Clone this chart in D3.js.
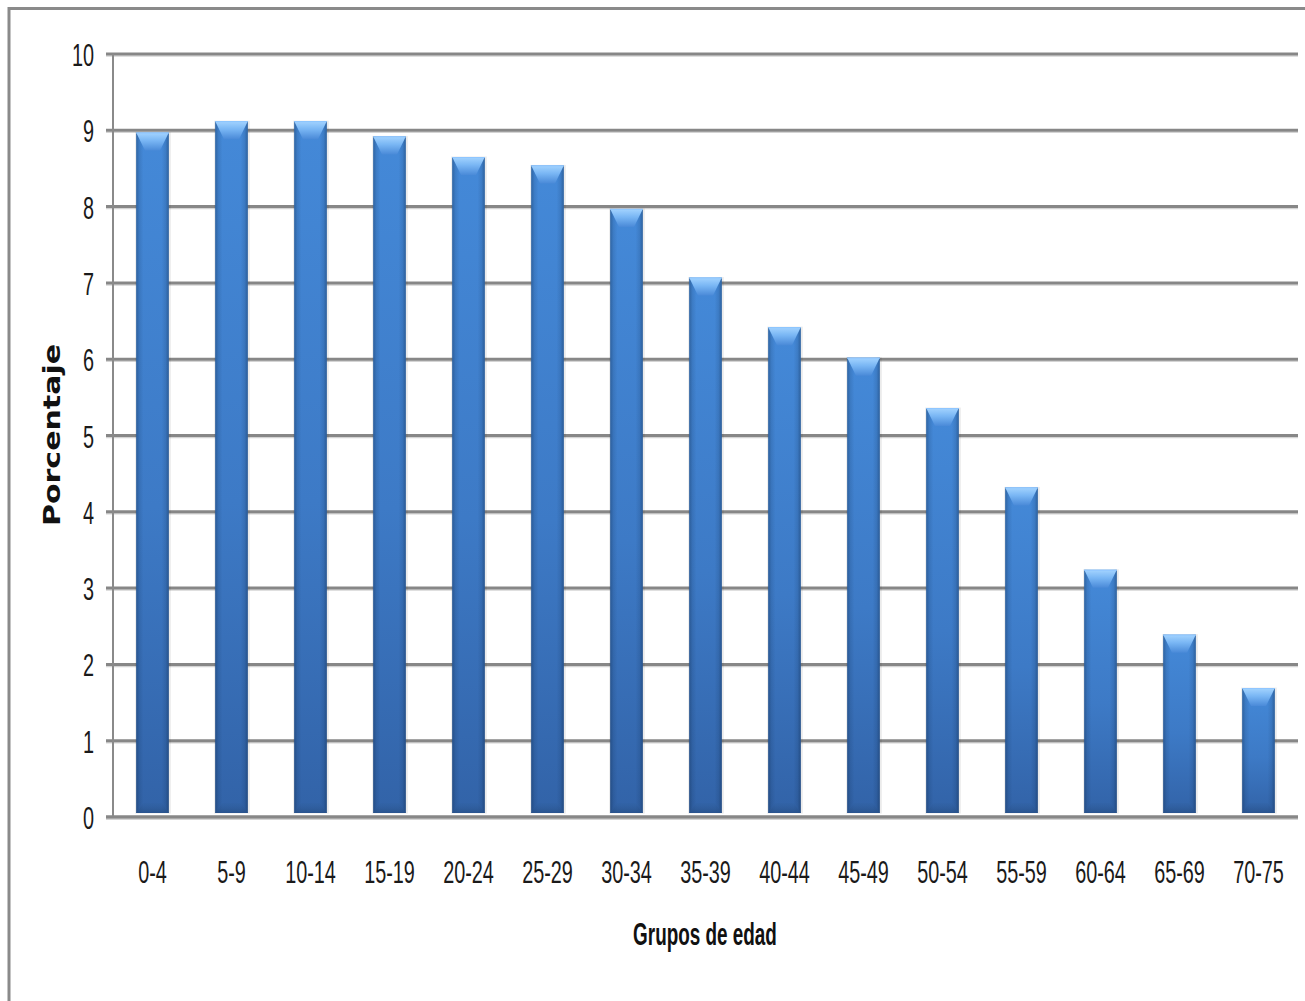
<!DOCTYPE html>
<html>
<head>
<meta charset="utf-8">
<script src="https://cdn.jsdelivr.net/npm/d3@7"></script>
<style>
  html, body { margin: 0; padding: 0; background: #fff; }
  svg { display: block; }
</style>
</head>
<body>
<script>
// ---- Data ----
const categories = ["0-4","5-9","10-14","15-19","20-24","25-29","30-34","35-39","40-44","45-49","50-54","55-59","60-64","65-69","70-75"];
const values = [8.97, 9.12, 9.12, 8.92, 8.65, 8.54, 7.97, 7.07, 6.42, 6.02, 5.36, 4.32, 3.24, 2.39, 1.69];
const yTicks = [0,1,2,3,4,5,6,7,8,9,10];
const xTitle = "Grupos de edad";
const yTitle = "Porcentaje";

// ---- Layout ----
const W = 1305, H = 1001;
const plot = { left: 113, right: 1298, top: 54, bottom: 817 };
const K = 0.62; // horizontal condensing of label text

const svg = d3.select("body").append("svg").attr("width", W).attr("height", H);
const defs = svg.append("defs");

// gradients
const gBody = defs.append("linearGradient").attr("id","gBody").attr("x1",0).attr("y1",0).attr("x2",0).attr("y2",1);
gBody.append("stop").attr("offset","0%").attr("stop-color","#4489d8");
gBody.append("stop").attr("offset","55%").attr("stop-color","#3d7ac6");
gBody.append("stop").attr("offset","100%").attr("stop-color","#3263a8");

const gSide = defs.append("linearGradient").attr("id","gSide").attr("x1",0).attr("y1",0).attr("x2",1).attr("y2",0);
[[0,0.35],[0.1,0.12],[0.22,0.0],[0.78,0.0],[0.9,0.12],[1,0.38]].forEach(([o,a])=>{
  gSide.append("stop").attr("offset",o).attr("stop-color","#0a2240").attr("stop-opacity",a);
});

const gTop = defs.append("linearGradient").attr("id","gTop").attr("x1",0).attr("y1",0).attr("x2",0).attr("y2",1);
gTop.append("stop").attr("offset","0%").attr("stop-color","#a4d4ff");
gTop.append("stop").attr("offset","45%").attr("stop-color","#79b6f4");
gTop.append("stop").attr("offset","100%").attr("stop-color","#4a8ad8");

const gBot = defs.append("linearGradient").attr("id","gBot").attr("x1",0).attr("y1",0).attr("x2",0).attr("y2",1);
gBot.append("stop").attr("offset","0%").attr("stop-color","#2f5e9c").attr("stop-opacity",0.2);
gBot.append("stop").attr("offset","100%").attr("stop-color","#28518a").attr("stop-opacity",0.85);

// ---- Frame ----
svg.append("line").attr("x1",8).attr("x2",W).attr("y1",8.5).attr("y2",8.5)
  .attr("stroke","#8a8a8a").attr("stroke-width",3);
svg.append("line").attr("x1",9).attr("x2",9).attr("y1",7).attr("y2",H)
  .attr("stroke","#8a8a8a").attr("stroke-width",3);

// ---- Scales ----
const x = d3.scaleBand().domain(categories).range([plot.left, plot.right])
  .paddingInner(0.587).paddingOuter(0.2935);
const y = d3.scaleLinear().domain([0, 10]).range([plot.bottom, plot.top]);

// ---- Gridlines ----
const grid = svg.append("g");
grid.selectAll("line.shadow").data(yTicks).join("line")
  .attr("class","shadow")
  .attr("x1", plot.left - 7).attr("x2", plot.right)
  .attr("y1", d => y(d) + 2).attr("y2", d => y(d) + 2)
  .attr("stroke","#d4d4d4").attr("stroke-width",1.5);
grid.selectAll("line.g").data(yTicks).join("line")
  .attr("class","g")
  .attr("x1", plot.left - 7).attr("x2", plot.right)
  .attr("y1", d => y(d)).attr("y2", d => y(d))
  .attr("stroke","#878787").attr("stroke-width",3);

// vertical axis line
svg.append("line").attr("x1",plot.left).attr("x2",plot.left)
  .attr("y1",plot.top).attr("y2",plot.bottom)
  .attr("stroke","#8a8a8a").attr("stroke-width",2);

// ---- Bars ----
const bw = x.bandwidth();
const barG = svg.append("g");
const bars = barG.selectAll("g.bar").data(categories.map((c,i)=>({c, v: values[i]}))).join("g").attr("class","bar");

bars.append("rect")
  .attr("x", d => x(d.c) - 1).attr("y", d => y(d.v) - 0.5)
  .attr("width", bw + 3).attr("height", d => y(0) - y(d.v) - 3)
  .attr("fill","#000").attr("opacity",0.08);
bars.append("rect")
  .attr("x", d => x(d.c)).attr("y", d => y(d.v))
  .attr("width", bw).attr("height", d => y(0) - y(d.v) - 4)
  .attr("fill","url(#gBody)");
bars.append("rect")
  .attr("x", d => x(d.c)).attr("y", d => y(d.v))
  .attr("width", bw).attr("height", d => y(0) - y(d.v) - 4)
  .attr("fill","url(#gSide)");
bars.append("path")
  .attr("d", d => {
    const x0 = x(d.c), x1 = x0 + bw, t = y(d.v), ins = bw * 0.27, h = 18;
    return `M${x0},${t}L${x1},${t}L${x1-ins},${t+h}L${x0+ins},${t+h}Z`;
  })
  .attr("fill","url(#gTop)");
bars.append("line")
  .attr("x1", d => x(d.c)).attr("x2", d => x(d.c) + bw)
  .attr("y1", d => y(d.v) + 0.5).attr("y2", d => y(d.v) + 0.5)
  .attr("stroke","#8fc6ff").attr("stroke-width",1);
bars.append("path")
  .attr("d", d => {
    const x0 = x(d.c), x1 = x0 + bw, b = y(0) - 4, ins = bw * 0.22, h = 10;
    return `M${x0},${b}L${x1},${b}L${x1-ins},${b-h}L${x0+ins},${b-h}Z`;
  })
  .attr("fill","url(#gBot)");

// ---- Bottom axis line ----
svg.append("line").attr("x1",plot.left - 7).attr("x2",plot.right)
  .attr("y1",y(0)+2).attr("y2",y(0)+2).attr("stroke","#d0d0d0").attr("stroke-width",1.5);
svg.append("line").attr("x1",plot.left - 7).attr("x2",plot.right)
  .attr("y1",y(0)).attr("y2",y(0)).attr("stroke","#878787").attr("stroke-width",3);

// ---- Axes (labels) ----
const yAxis = svg.append("g").attr("transform",`translate(${plot.left},0)`)
  .call(d3.axisLeft(y).tickValues(yTicks).tickSize(0).tickPadding(19).tickFormat(d3.format("d")));
yAxis.select(".domain").remove();
yAxis.selectAll("text")
  .attr("font-family","'Liberation Sans', Arial, sans-serif")
  .attr("font-size",32).attr("fill","#1a1a1a").attr("dy","0.36em")
  .attr("x", -19 / K).attr("transform", `scale(${K},1)`);

const xAxis = svg.append("g").attr("transform",`translate(0,${plot.bottom})`)
  .call(d3.axisBottom(x).tickSize(0).tickPadding(0));
xAxis.select(".domain").remove();
xAxis.selectAll("text")
  .attr("font-family","'Liberation Sans', Arial, sans-serif")
  .attr("font-size",32).attr("fill","#1a1a1a").attr("y",66).attr("dy",0)
  .attr("transform", `scale(${K},1)`);

// ---- Titles ----
svg.append("text").text(xTitle)
  .attr("transform", "translate(705,945) scale(0.61,1)")
  .attr("text-anchor","middle")
  .attr("font-family","'Liberation Sans', Arial, sans-serif")
  .attr("font-weight","bold").attr("font-size",31).attr("fill","#111");

svg.append("text").text(yTitle)
  .attr("transform","translate(60,435) rotate(-90) scale(1,0.78)")
  .attr("text-anchor","middle")
  .attr("font-family","'DejaVu Sans', Verdana, sans-serif")
  .attr("font-weight","bold").attr("font-size",30).attr("fill","#111")
  .attr("textLength",182).attr("lengthAdjust","spacingAndGlyphs");
</script>
</body>
</html>
